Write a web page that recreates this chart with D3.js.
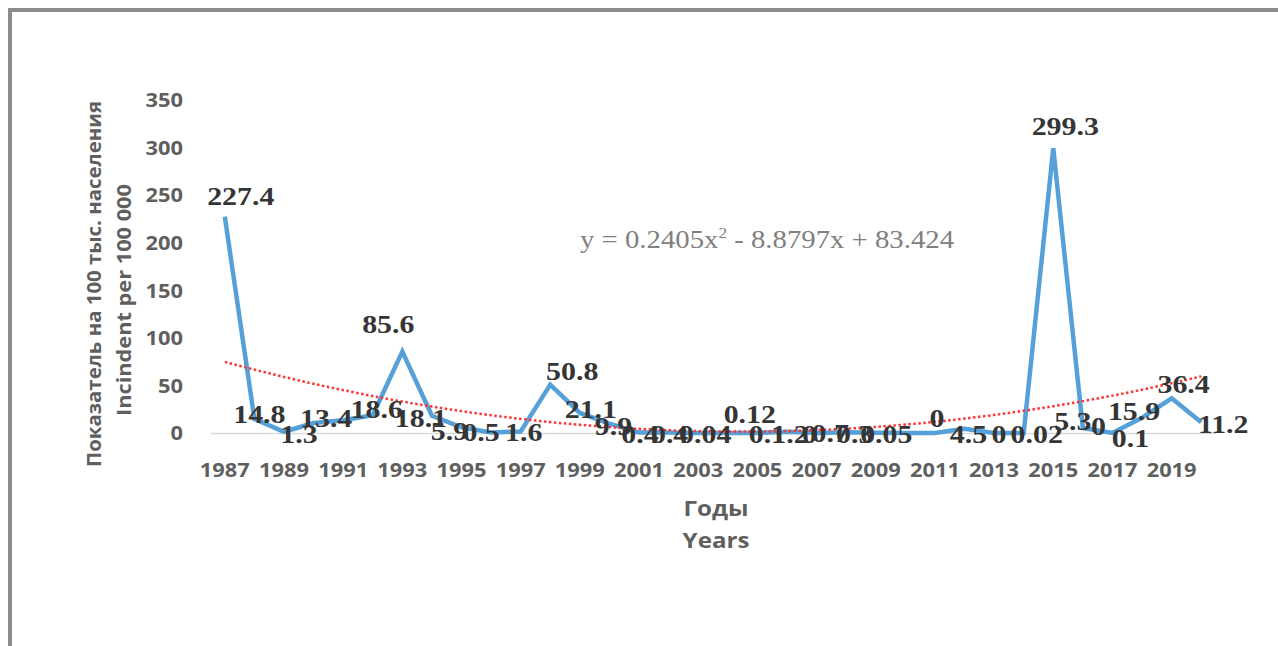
<!DOCTYPE html>
<html>
<head>
<meta charset="utf-8">
<script src="https://cdn.jsdelivr.net/npm/d3@7"></script>
<style>
  html, body { margin: 0; padding: 0; background: #ffffff; }
  svg { display: block; }
</style>
</head>
<body>
<svg id="chart" width="1278" height="646"></svg>
<script>
// Incidence per 100 000 population, 1987–2020
const years = d3.range(1987, 2021);
const values = [
  227.4, 14.8, 1.3, 10.5, 13.4, 18.6, 85.6, 18.1, 5.9, 0.5,
  1.6, 50.8, 21.1, 9.9, 0.4, 0.4, 0.04, 0.12, 0.1, 1.2,
  0, 0.7, 0.3, 0.05, 0, 4.5, 0, 0.02, 299.3, 5.3,
  0.1, 15.9, 36.4, 11.2
];
// printed value labels (null = no label shown)
const valueLabels = [
  "227.4", "14.8", "1.3", null, "13.4", "18.6", "85.6", "18.1", "5.9", "0.5",
  "1.6", "50.8", "21.1", "9.9", "0.4", "0.4", "0.04", "0.12", "0.1", "1.2",
  "0", "0.7", "0.3", "0.05", "0", "4.5", "0", "0.02", "299.3", "5.3",
  "0.1", "15.9", "36.4", "11.2"
];
// rounded value shown once more beside the 2017 point
const roundedNotes = [{ year: 2017, text: "0" }];
const yTicks = [0, 50, 100, 150, 200, 250, 300, 350];
const xTickYears = d3.range(1987, 2020, 2);
// polynomial trend y = a x^2 + b x + c, x = 1..34
const trendCoef = { a: 0.2405, b: -8.8797, c: 83.424 };

// label placement relative to each point [dx, dy]
const labelOffsets = [
  [16, -12], [5, 4], [15, 11], [0, 0], [-17, 7], [4, 3], [-14, -19], [-11, 11], [-12, 13], [-10, 8],
  [3, 10], [22, -5], [11, 5], [4, 11], [1, 10], [1, 10], [7, 10], [22, -10], [10, 10], [3, 11],
  [-7, 10], [-16, 10], [-21, 10], [-19, 10], [2, -6], [4, 14], [5, 10], [13, 10], [12, -13], [-10, 2],
  [18, 14], [-8, 2], [12, -5], [22, 11]
];
const noteOffsets = [[-14, 2]];

// glyphs are drawn slightly wide
const widen = 1.15;

const svg = d3.select("#chart");

// outer frame
svg.append("line").attr("x1", 8).attr("x2", 1278).attr("y1", 10).attr("y2", 10)
  .attr("stroke", "#8c8c8c").attr("stroke-width", 4);
svg.append("line").attr("x1", 10).attr("x2", 10).attr("y1", 8).attr("y2", 646)
  .attr("stroke", "#8c8c8c").attr("stroke-width", 4);

const x = d3.scaleBand().domain(years).range([210, 1216]);
const cx = d => x(d) + x.bandwidth() / 2;
const y = d3.scaleLinear().domain([0, 350]).range([433, 100]);

const axisFont = "'Open Sans', Lato, sans-serif";
const axisColor = "#5f5f5f";
const serif = "'Liberation Serif', 'Times New Roman', serif";

function widenText(sel) {
  sel.each(function () {
    const t = d3.select(this);
    const tx = +t.attr("x") || 0, ty = +t.attr("y") || 0;
    t.attr("transform", `translate(${tx},${ty}) scale(${widen},1)`).attr("x", 0).attr("y", 0);
  });
}

// y axis (labels only)
const yAxis = d3.axisLeft(y).tickValues(yTicks).tickSize(0).tickPadding(0);
const gy = svg.append("g").attr("transform", "translate(183,0)").call(yAxis);
gy.select(".domain").remove();
gy.selectAll("text")
  .attr("font-family", axisFont).attr("font-weight", 700).attr("font-size", 19)
  .attr("fill", axisColor).attr("dy", "0.36em").attr("x", 0)
  .call(widenText);

// x axis
const xAxis = d3.axisBottom(x).tickValues(xTickYears).tickSize(0).tickPadding(0);
const gx = svg.append("g").attr("transform", "translate(0,433)").call(xAxis);
gx.select(".domain").attr("stroke", "#d9d9d9").attr("stroke-width", 1.5);
gx.selectAll("text")
  .attr("font-family", axisFont).attr("font-weight", 700).attr("font-size", 19)
  .attr("fill", axisColor).attr("dy", 0).attr("y", 44)
  .call(widenText);

// axis titles
svg.append("text")
  .attr("transform", "translate(101,284) rotate(-90)")
  .attr("font-family", axisFont).attr("font-weight", 700).attr("font-size", 19)
  .attr("fill", axisColor).attr("text-anchor", "middle")
  .attr("textLength", 366).attr("lengthAdjust", "spacingAndGlyphs")
  .text("Показатель на 100 тыс. населения");
svg.append("text")
  .attr("transform", "translate(131,300) rotate(-90)")
  .attr("font-family", axisFont).attr("font-weight", 700).attr("font-size", 19)
  .attr("fill", axisColor).attr("text-anchor", "middle")
  .attr("textLength", 232).attr("lengthAdjust", "spacingAndGlyphs")
  .text("Incindent per 100 000");

svg.append("text").attr("x", 716).attr("y", 516)
  .attr("font-family", axisFont).attr("font-weight", 700).attr("font-size", 21)
  .attr("fill", axisColor).attr("text-anchor", "middle").text("Годы")
  .call(widenText);
svg.append("text").attr("x", 716).attr("y", 548)
  .attr("font-family", axisFont).attr("font-weight", 700).attr("font-size", 21)
  .attr("fill", axisColor).attr("text-anchor", "middle").text("Years")
  .call(widenText);

// data line
const line = d3.line().x((d, i) => cx(years[i])).y(d => y(d));
svg.append("path").datum(values)
  .attr("d", line)
  .attr("fill", "none").attr("stroke", "#55a0d8").attr("stroke-width", 4.5)
  .attr("stroke-linejoin", "miter").attr("stroke-linecap", "butt");

// polynomial trend line (dotted)
const trendX = d3.range(1, years.length + 0.001, 0.1);
const trendLine = d3.line()
  .x(t => cx(years[0]) + (t - 1) * x.step())
  .y(t => y(trendCoef.a * t * t + trendCoef.b * t + trendCoef.c));
svg.append("path").datum(trendX)
  .attr("d", trendLine)
  .attr("fill", "none").attr("stroke", "#ff3535").attr("stroke-width", 2.5)
  .attr("stroke-dasharray", "2.5,2.5");

// value labels
const labelData = values.map((v, i) => ({ v, i, t: valueLabels[i] })).filter(d => d.t !== null);
svg.append("g").selectAll("text")
  .data(labelData)
  .join("text")
  .attr("x", d => cx(years[d.i]) + labelOffsets[d.i][0])
  .attr("y", d => y(d.v) + labelOffsets[d.i][1])
  .attr("text-anchor", "middle")
  .attr("font-family", serif).attr("font-weight", 700).attr("font-size", 26)
  .attr("fill", "#353535")
  .text(d => d.t)
  .call(widenText);

svg.append("g").selectAll("text")
  .data(roundedNotes)
  .join("text")
  .attr("x", (d, k) => cx(d.year) + noteOffsets[k][0])
  .attr("y", (d, k) => y(values[years.indexOf(d.year)]) + noteOffsets[k][1])
  .attr("text-anchor", "middle")
  .attr("font-family", serif).attr("font-weight", 700).attr("font-size", 26)
  .attr("fill", "#353535")
  .text(d => d.text)
  .call(widenText);

// trend equation
svg.append("text").attr("x", 580).attr("y", 248)
  .attr("font-family", serif)
  .attr("font-size", 25).attr("fill", "#808080")
  .html("y = 0.2405x<tspan dy='-10' font-size='15'>2</tspan><tspan dy='10'> - 8.8797x + 83.424</tspan>")
  .call(widenText);
</script>
</body>
</html>
